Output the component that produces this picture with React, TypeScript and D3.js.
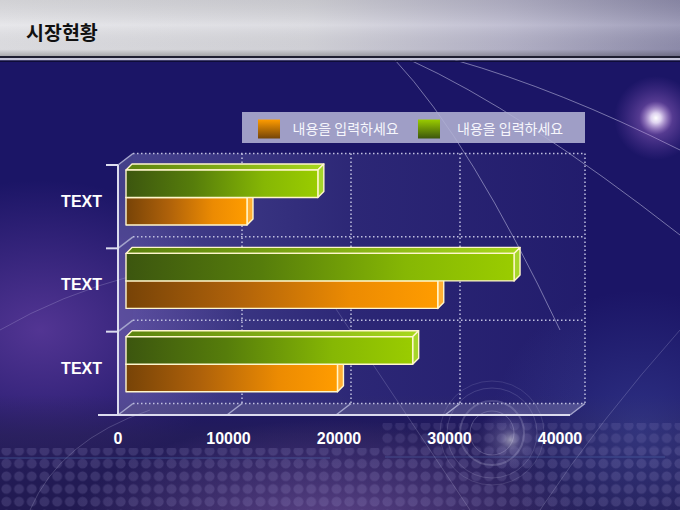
import { useEffect, useRef } from 'react'
import * as d3 from 'd3'

// chart data
const categories = ['TEXT', 'TEXT', 'TEXT']
const seriesNames = ['내용을 입력하세요', '내용을 입력하세요']
const orangeValues = [11100, 28600, 19400]
const greenValues = [17600, 35600, 26300]
const xTicks = [0, 10000, 20000, 30000, 40000]
const title = '시장현황'

export default function App() {
  const svgRef = useRef<SVGSVGElement>(null)

  useEffect(() => {
    const svg = d3.select(svgRef.current)
    svg.selectAll('*').remove()

    const W = 680
    const H = 510
    svg.attr('width', W).attr('height', H).attr('viewBox', `0 0 ${W} ${H}`)

    const defs = svg.append('defs')
    const linear = (id: string, stops: [number, string, number?][], x2 = 1, y2 = 0) => {
      const g = defs.append('linearGradient').attr('id', id)
        .attr('x1', 0).attr('y1', 0).attr('x2', x2).attr('y2', y2)
      stops.forEach(([o, c, a]) => g.append('stop').attr('offset', o).attr('stop-color', c).attr('stop-opacity', a ?? 1))
    }
    const radial = (id: string, stops: [number, string, number?][]) => {
      const g = defs.append('radialGradient').attr('id', id)
      stops.forEach(([o, c, a]) => g.append('stop').attr('offset', o).attr('stop-color', c).attr('stop-opacity', a ?? 1))
    }

    linear('hdrH', [[0, '#e4e4e8'], [0.45, '#d8d8de'], [0.75, '#b8b6cc'], [1, '#9290b0']])
    linear('hdrV', [[0, '#000', 0.08], [0.45, '#fff', 0.12], [0.88, '#000', 0.04], [1, '#000', 0.25]], 0, 1)
    radial('glowLeft', [[0, '#8a55c0', 0.5], [1, '#8a55c0', 0]])
    radial('glowBottom', [[0, '#9a70c0', 0.5], [1, '#9a70c0', 0]])
    radial('glowRight', [[0, '#4a5ab0', 0.4], [1, '#4a5ab0', 0]])
    radial('flare', [[0, '#ffffff', 1], [0.12, '#f4e8ff', 0.9], [0.4, '#c080e0', 0.35], [1, '#a060d0', 0]])
    radial('flare2', [[0, '#ffffff', 0.5], [0.3, '#d0c8f0', 0.22], [1, '#9080d0', 0]])
    linear('bottomBand', [[0, '#2a2250', 0], [0.35, '#2a2250', 0.55], [1, '#241c48', 0.7]], 0, 1)
    linear('backWall', [[0, '#a8a8e8', 0.3], [0.5, '#a8a8e8', 0.12], [1, '#a8a8e8', 0.05]])

    linear('greenFront', [[0, '#3c560f'], [0.35, '#567d0b'], [0.72, '#86b704'], [1, '#9acc00']])
    linear('orangeFront', [[0, '#774307'], [0.35, '#ae610a'], [0.72, '#ec8b02'], [1, '#ff9c00']])
    linear('greenTop', [[0, '#5c820e'], [1, '#a8d81c']])
    linear('orangeTop', [[0, '#8a5010'], [1, '#ffb040']])
    linear('greenSwatch', [[0, '#9acc00'], [1, '#3c560c']], 0, 1)
    linear('orangeSwatch', [[0, '#ff9c00'], [1, '#744408']], 0, 1)

    const dots = defs.append('pattern').attr('id', 'dots')
      .attr('patternUnits', 'userSpaceOnUse').attr('width', 12.7).attr('height', 12.7)
    dots.append('circle').attr('cx', 6.35).attr('cy', 6.35).attr('r', 5).attr('fill', '#b0a8e0')

    // background
    svg.append('rect').attr('width', W).attr('height', H).attr('fill', '#1b1566')
    svg.append('ellipse').attr('cx', 40).attr('cy', 330).attr('rx', 200).attr('ry', 150).attr('fill', 'url(#glowLeft)')
    svg.append('rect').attr('y', 395).attr('width', W).attr('height', 115).attr('fill', 'url(#bottomBand)')
    svg.append('ellipse').attr('cx', 640).attr('cy', 430).attr('rx', 150).attr('ry', 140).attr('fill', 'url(#glowRight)')
    svg.append('ellipse').attr('cx', 330).attr('cy', 530).attr('rx', 260).attr('ry', 110).attr('fill', 'url(#glowBottom)')
    svg.append('rect').attr('x', 0).attr('y', 448).attr('width', W).attr('height', 62)
      .attr('fill', 'url(#dots)').attr('opacity', 0.17)
    svg.append('rect').attr('x', 380).attr('y', 423).attr('width', 300).attr('height', 25)
      .attr('fill', 'url(#dots)').attr('opacity', 0.13)

    const deco = svg.append('g').attr('fill', 'none').attr('stroke', '#e8e8ff')
    ;[
      'M 395 60 Q 470 140 560 330',
      'M 410 60 Q 520 110 680 235',
      'M 455 60 Q 560 90 680 150',
      'M 0 330 Q 120 260 300 250',
      'M 30 510 Q 60 440 150 410',
      'M 540 510 Q 600 420 680 330',
      'M 330 300 L 470 510',
    ].forEach((d, i) => deco.append('path').attr('d', d)
      .attr('stroke-opacity', i < 3 ? 0.45 : 0.2).attr('stroke-width', 1))
    ;[22, 32, 45, 52].forEach((r, i) => deco.append('circle')
      .attr('cx', 492).attr('cy', 433).attr('r', r)
      .attr('stroke-opacity', 0.22 - i * 0.03).attr('stroke-width', i === 1 ? 2 : 1))
    deco.append('line').attr('x1', 0).attr('x2', 330).attr('y1', 458).attr('y2', 458)
      .attr('stroke', '#6aa0e0').attr('stroke-opacity', 0.35)
    deco.append('line').attr('x1', 385).attr('x2', 665).attr('y1', 457).attr('y2', 457)
      .attr('stroke', '#6aa0e0').attr('stroke-opacity', 0.3)

    svg.append('circle').attr('cx', 656).attr('cy', 118).attr('r', 42).attr('fill', 'url(#flare)')
    svg.append('circle').attr('cx', 510).attr('cy', 440).attr('r', 34).attr('fill', 'url(#flare2)')

    // header
    svg.append('rect').attr('width', W).attr('height', 56).attr('fill', 'url(#hdrH)')
    svg.append('rect').attr('width', W).attr('height', 56).attr('fill', 'url(#hdrV)')
    svg.append('rect').attr('y', 56).attr('width', W).attr('height', 2).attr('fill', '#1e1e30')
    svg.append('rect').attr('y', 58).attr('width', W).attr('height', 2.5).attr('fill', '#c4c4d8')
    svg.append('rect').attr('y', 60.5).attr('width', W).attr('height', 1.5).attr('fill', '#0e0c38')
    svg.append('text').attr('x', 26).attr('y', 40)
      .attr('font-family', "'Noto Sans CJK KR', sans-serif").attr('font-weight', 700)
      .attr('font-size', 19.5).attr('fill', '#111').text(title)

    // geometry of the 3D plot
    const x = d3.scaleLinear().domain([0, 40000]).range([118, 554])
    const dx = 15
    const dy = -11.5
    const wallTop = 165
    const floorY = 415
    const left = x(0)
    const right = x(40000) + 16

    const y = d3.scaleBand<number>().domain(d3.range(categories.length)).range([wallTop, floorY])
    const edges = [...categories.map((_, i) => y(i)!), floorY]

    const pts = (p: [number, number][]) => p.map(q => q.join(',')).join(' ')

    svg.append('polygon').attr('points', pts([[left + dx, wallTop + dy], [right + dx, wallTop + dy], [right + dx, floorY + dy], [left + dx, floorY + dy]]))
      .attr('fill', 'url(#backWall)')
    svg.append('polygon').attr('points', pts([[left, wallTop], [left + dx, wallTop + dy], [left + dx, floorY + dy], [left, floorY]]))
      .attr('fill', '#b0b0e8').attr('fill-opacity', 0.28)
    svg.append('polygon').attr('points', pts([[left, floorY], [left + dx, floorY + dy], [right + dx, floorY + dy], [right, floorY]]))
      .attr('fill', '#b4b4d8').attr('fill-opacity', 0.3)

    // dotted grid on back wall
    const grid = svg.append('g').attr('stroke', '#c0c0e0').attr('stroke-width', 1.5)
      .attr('stroke-dasharray', '1.5 2.5').attr('fill', 'none')
    ;[...xTicks.slice(1, -1).map(t => x(t)), right].forEach(px => grid.append('line')
      .attr('x1', px + dx).attr('x2', px + dx).attr('y1', wallTop + dy).attr('y2', floorY + dy))
    edges.forEach(py => grid.append('line')
      .attr('x1', left + dx).attr('x2', right + dx).attr('y1', py + dy).attr('y2', py + dy))

    // depth lines on floor and left wall
    const depthLines = svg.append('g').attr('stroke', '#a4a4cc').attr('stroke-width', 1.5)
    ;[...xTicks.slice(0, -1).map(t => x(t)), right].forEach(px => depthLines.append('line')
      .attr('x1', px).attr('y1', floorY).attr('x2', px + dx).attr('y2', floorY + dy))
    edges.slice(0, -1).forEach(py => depthLines.append('line')
      .attr('x1', left).attr('y1', py).attr('x2', left + dx).attr('y2', py + dy))

    // bars
    const planeDx = 8
    const planeDy = -6
    const bdx = 6
    const bdy = -6
    const inner = d3.scaleBand<string>().domain(['green', 'orange'])
      .range([0, y.bandwidth()]).paddingInner(0).paddingOuter(0.515).align(0.39)
    const xb = (v: number) => x(v) + planeDx

    const bars = svg.append('g').attr('stroke', '#fff6cc').attr('stroke-width', 1.4).attr('stroke-linejoin', 'round')
    categories.forEach((_, i) => {
      ;[
        { key: 'orange', v: orangeValues[i], front: 'url(#orangeFront)', top: 'url(#orangeTop)', side: '#ffae33' },
        { key: 'green', v: greenValues[i], front: 'url(#greenFront)', top: 'url(#greenTop)', side: '#a6d62a' },
      ].forEach(s => {
        const x0 = xb(0)
        const x1 = xb(s.v)
        const y0 = y(i)! + planeDy + inner(s.key)!
        const h = inner.bandwidth()
        bars.append('polygon').attr('points', pts([[x0, y0], [x0 + bdx, y0 + bdy], [x1 + bdx, y0 + bdy], [x1, y0]]))
          .attr('fill', s.top)
        bars.append('polygon').attr('points', pts([[x1, y0], [x1 + bdx, y0 + bdy], [x1 + bdx, y0 + h + bdy], [x1, y0 + h]]))
          .attr('fill', s.side)
        bars.append('rect').attr('x', x0).attr('y', y0).attr('width', x1 - x0).attr('height', h)
          .attr('fill', s.front)
      })
    })

    // axes
    const axis = svg.append('g').attr('stroke', '#dcdcee').attr('stroke-width', 2)
    axis.append('line').attr('x1', left).attr('x2', left).attr('y1', wallTop).attr('y2', floorY)
    axis.append('line').attr('x1', left - 20).attr('x2', right).attr('y1', floorY).attr('y2', floorY)
    edges.slice(0, -1).forEach(py => axis.append('line')
      .attr('x1', left - 12).attr('x2', left).attr('y1', py).attr('y2', py))

    const labelFont = "'Liberation Sans', Arial, sans-serif"
    svg.append('g').selectAll('text').data(categories).enter().append('text')
      .attr('x', 102)
      .attr('y', (_, i) => y(i)! + y.bandwidth() / 2 + dy / 2 + 6)
      .attr('text-anchor', 'end').attr('font-family', labelFont).attr('font-weight', 700)
      .attr('font-size', 16).attr('fill', '#fff').text(d => d)

    svg.append('g').selectAll('text').data(xTicks).enter().append('text')
      .attr('x', (d, i) => x(d) + i * 1.5).attr('y', 444)
      .attr('text-anchor', 'middle').attr('font-family', labelFont).attr('font-weight', 700)
      .attr('font-size', 16).attr('fill', '#fff').text(d => String(d))

    // legend
    const legend = svg.append('g')
    legend.append('rect').attr('x', 242).attr('y', 112).attr('width', 343).attr('height', 31)
      .attr('fill', '#b2b2d4').attr('fill-opacity', 0.88)
    const swatches = ['url(#orangeSwatch)', 'url(#greenSwatch)']
    seriesNames.forEach((name, i) => {
      const lx = 258 + i * 160
      legend.append('rect').attr('x', lx).attr('y', 119.5).attr('width', 22).attr('height', 19)
        .attr('fill', swatches[i])
      legend.append('text').attr('x', lx + 34.5 + i * 4.5).attr('y', 133.5)
        .attr('font-family', "'Noto Sans CJK KR', sans-serif").attr('font-size', 14)
        .attr('fill', '#f6f6fc').text(name)
    })
  }, [])

  return <svg ref={svgRef} style={{ position: 'absolute', left: 0, top: 0, display: 'block' }} />
}
